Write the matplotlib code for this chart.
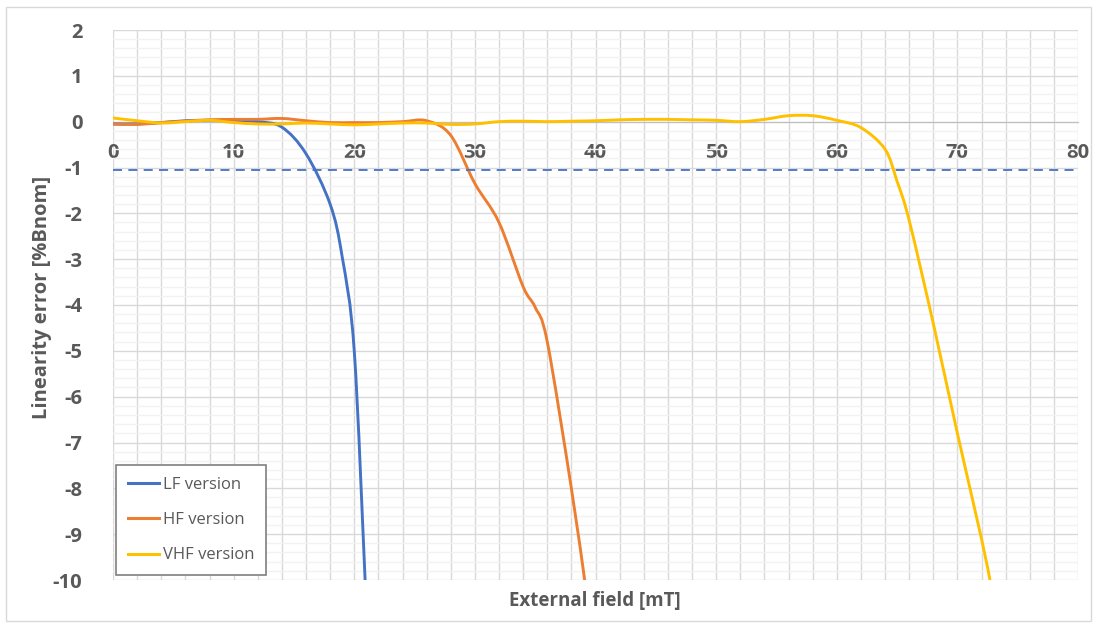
import matplotlib.pyplot as plt
import numpy as np
from matplotlib.path import Path
from matplotlib.patches import PathPatch, Rectangle
from matplotlib.lines import Line2D
from matplotlib.ticker import MultipleLocator

plt.rcParams['font.family'] = ['Open Sans', 'DejaVu Sans']

# measured linearity error per sensor version
lf_x = [0, 2, 4, 6, 8, 10, 12, 14, 16, 18, 19, 20, 20.9]
lf_y = [-0.05, -0.05, -0.02, 0.02, 0.03, 0.03, 0.0, -0.12, -0.7, -1.8, -2.95, -5.0, -10.0]

hf_x = [0, 2, 4, 6, 8, 10, 12, 14, 16, 18, 20, 22, 24, 26, 28, 30, 32, 34, 35, 36, 38, 39.1]
hf_y = [-0.05, -0.06, -0.02, 0.01, 0.04, 0.05, 0.05, 0.07, 0.02, -0.02, -0.02, -0.02, 0.0, 0.02,
        -0.3, -1.35, -2.2, -3.6, -4.05, -4.8, -8.0, -10.0]

vhf_x = [0, 2, 4, 6, 8, 10, 12, 14, 16, 18, 20, 22, 24, 26, 28, 30, 32, 34, 36, 38, 40, 42, 44,
         46, 48, 50, 52, 54, 56, 58, 60, 62, 64, 65, 66, 68, 70, 72, 72.7]
vhf_y = [0.08, 0.02, -0.03, 0.0, 0.03, -0.02, -0.05, -0.05, -0.03, -0.05, -0.07, -0.05, -0.03,
         -0.03, -0.06, -0.05, 0.0, 0.01, 0.0, 0.01, 0.02, 0.04, 0.05, 0.05, 0.04, 0.03, 0.0,
         0.05, 0.13, 0.13, 0.03, -0.13, -0.6, -1.3, -2.15, -4.4, -6.8, -9.1, -10.0]

limit = -1.05
series = [("LF version", lf_x, lf_y, "#4472C4"),
          ("HF version", hf_x, hf_y, "#ED7D31"),
          ("VHF version", vhf_x, vhf_y, "#FFC000")]

text_col = "#595959"


def smooth_path(x, y):
    # smoothed line through the points, Catmull-Rom style bezier segments
    pts = np.column_stack([x, y]).astype(float)
    n = len(pts)
    verts = [pts[0]]
    codes = [Path.MOVETO]
    for i in range(n - 1):
        p0 = pts[max(i - 1, 0)]
        p1 = pts[i]
        p2 = pts[i + 1]
        p3 = pts[min(i + 2, n - 1)]
        verts += [p1 + (p2 - p0) / 6, p2 - (p3 - p1) / 6, p2]
        codes += [Path.CURVE4] * 3
    return Path(verts, codes)


fig = plt.figure(figsize=(10.98, 6.28), dpi=100)
ax = fig.add_axes([113 / 1098, 1 - 580 / 628, 965 / 1098, 550 / 628])
fig.patches.append(Rectangle((6 / 1098, 7 / 628), 1085 / 1098, 614 / 628, transform=fig.transFigure,
                             fill=False, edgecolor="#D9D9D9", linewidth=1))

ax.set_xlim(0, 80)
ax.set_ylim(-10, 2)
ax.xaxis.set_major_locator(MultipleLocator(10))
ax.xaxis.set_minor_locator(MultipleLocator(2))
ax.yaxis.set_major_locator(MultipleLocator(1))
ax.yaxis.set_minor_locator(MultipleLocator(0.2))
ax.grid(which="minor", axis="y", color="#F2F2F2", linewidth=1)
ax.grid(which="major", axis="y", color="#D9D9D9", linewidth=1)
ax.grid(which="both", axis="x", color="#D9D9D9", linewidth=1)
ax.set_axisbelow(True)

for s in ["top", "right", "left"]:
    ax.spines[s].set_visible(False)
ax.spines["bottom"].set_position(("data", 0))
ax.spines["bottom"].set_color("#BFBFBF")
ax.tick_params(which="both", length=0)
ax.tick_params(axis="x", pad=15, labelsize=14.5, labelcolor=text_col)
ax.tick_params(axis="y", pad=22, labelsize=14.5, labelcolor=text_col)
ax.set_xticks(range(0, 81, 10))
ax.set_xticklabels([str(v) for v in range(0, 81, 10)], fontweight="bold")
ax.set_yticks(range(-10, 3))
ax.set_yticklabels([str(v) for v in range(-10, 3)], fontweight="bold")

for name, x, y, c in series:
    ax.add_patch(PathPatch(smooth_path(x, y), facecolor="none", edgecolor=c, linewidth=2.1,
                           capstyle="round", joinstyle="round", zorder=3))

ax.axhline(limit, color="#4472C4", linewidth=1.3, linestyle=(0, (5, 3.5)), zorder=4)

handles = [Line2D([], [], color=c, linewidth=2.2) for _, _, _, c in series]
leg = ax.legend(handles, [s[0] for s in series], loc="lower left", bbox_to_anchor=(0.003, 0.009),
                borderaxespad=0, fontsize=12, labelspacing=1.15, handlelength=1.9,
                handletextpad=0.2, borderpad=0.7, fancybox=False, framealpha=1,
                edgecolor="#7F7F7F", labelcolor=text_col)
leg.get_frame().set_linewidth(1.2)

fig.text(595 / 1098, 1 - 601 / 628, "External field [mT]", ha="center", va="center",
         fontsize=13.5, fontweight="bold", color=text_col)
fig.text(42 / 1098, 1 - 297 / 628, "Linearity error [%Bnom]", ha="center", va="center",
         rotation=90, fontsize=14.5, fontweight="bold", color=text_col)

fig.savefig("out.png", dpi=100)
